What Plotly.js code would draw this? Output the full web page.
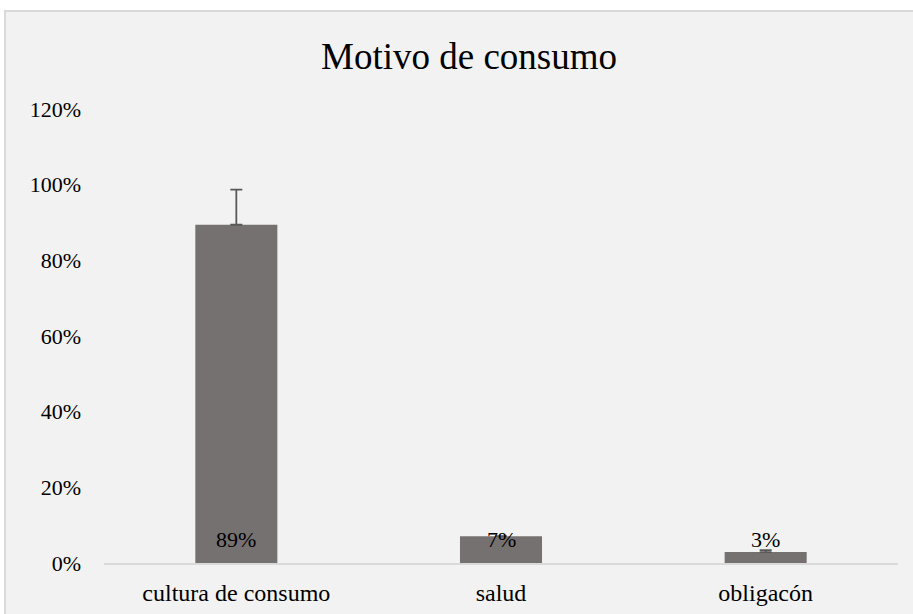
<!DOCTYPE html>
<html>
<head>
<meta charset="utf-8">
<script src="https://cdn.plot.ly/plotly-3.0.1.min.js"></script>
<style>
  html, body { margin: 0; padding: 0; background: #ffffff; }
  #chart { width: 913px; height: 614px; }
</style>
</head>
<body>
<div id="chart"></div>
<script>
// Data
const categories = ['cultura de consumo', 'salud', 'obligacón'];
const values = [0.894, 0.071, 0.029];
const errorPlus = [0.093, 0, 0.005];
const yTickVals = [0, 0.2, 0.4, 0.6, 0.8, 1.0, 1.2];
const yTickText = ['0%', '20%', '40%', '60%', '80%', '100%', '120%'];
const titleText = 'Motivo de consumo';

const serif = "'Liberation Serif', 'Times New Roman', serif";

const trace = {
  type: 'bar',
  x: categories,
  y: values,
  marker: { color: '#767171' },
  error_y: {
    type: 'data',
    symmetric: false,
    array: errorPlus,
    arrayminus: [0, 0, 0],
    color: '#595959',
    thickness: 1.8,
    width: 6
  },
  hoverinfo: 'none'
};

const annotations = categories.map((c, i) => ({
  x: c,
  y: 0,
  xref: 'x',
  yref: 'y',
  text: Math.round(values[i] * 100) + '%',
  showarrow: false,
  yanchor: 'middle',
  yshift: 24,
  font: { family: serif, size: 22, color: '#000000' }
}));

const layout = {
  width: 913,
  height: 614,
  margin: { l: 104, r: 15, t: 109, b: 51 },
  paper_bgcolor: '#ffffff',
  plot_bgcolor: 'rgba(0,0,0,0)',
  font: { family: serif, size: 22, color: '#000000' },
  showlegend: false,
  bargap: 0.69,
  title: {
    text: titleText,
    font: { family: serif, size: 37, color: '#000000' },
    x: (469 - 104) / 794,
    xanchor: 'center',
    xref: 'paper',
    yref: 'container',
    y: 1 - 56 / 614,
    yanchor: 'middle'
  },
  xaxis: {
    type: 'category',
    showgrid: false,
    zeroline: false,
    showline: true,
    linecolor: '#d9d9d9',
    linewidth: 2,
    ticks: '',
    tickfont: { family: serif, size: 24, color: '#000000' },
    ticklabelstandoff: 7
  },
  yaxis: {
    range: [0, 1.2],
    tickvals: yTickVals,
    ticktext: yTickText,
    showgrid: false,
    zeroline: false,
    showline: false,
    ticks: '',
    tickfont: { family: serif, size: 22, color: '#000000' },
    ticklabelstandoff: 22
  },
  shapes: [{
    type: 'rect',
    xref: 'paper',
    yref: 'paper',
    x0: (5 - 104) / 794,
    x1: (930 - 104) / 794,
    y0: (563 - 630) / 454,
    y1: (563 - 11) / 454,
    fillcolor: '#f2f2f2',
    line: { color: '#d9d9d9', width: 2 },
    layer: 'below'
  }],
  annotations: annotations
};

Plotly.newPlot('chart', [trace], layout, { displayModeBar: false, staticPlot: true });
</script>
</body>
</html>
